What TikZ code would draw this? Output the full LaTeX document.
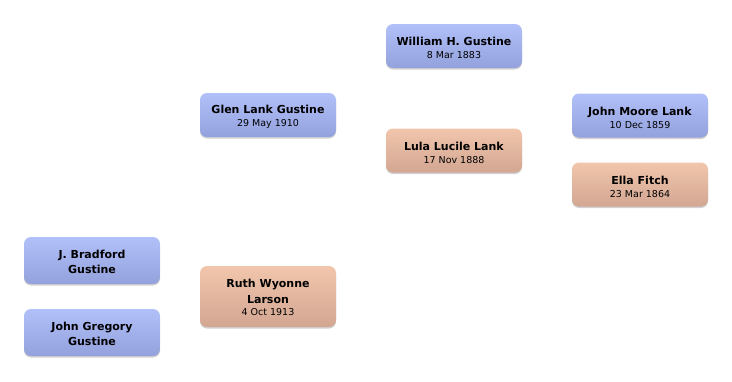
\documentclass[tikz,border=0pt]{standalone}
\usepackage{fontspec}
\setmainfont{DejaVu Sans}
\usetikzlibrary{shadows}
\definecolor{btop}{HTML}{B2C0FA}
\definecolor{bbot}{HTML}{93A1DC}
\definecolor{stop}{HTML}{F1C6AC}
\definecolor{sbot}{HTML}{D2A692}
\tikzset{
  person/.style={rounded corners=7pt, minimum width=136pt, inner sep=0pt,
    drop shadow={shadow xshift=0pt, shadow yshift=-1.5pt, opacity=0.18, fill=black}},
  male/.style={person, top color=btop, bottom color=bbot},
  female/.style={person, top color=stop, bottom color=sbot},
  txt/.style={inner sep=0pt, align=center, text=black, font=\fontsize{11}{15.5}\selectfont},
}
\newcommand{\dt}[1]{{\fontsize{9.5}{12}\selectfont #1}}
\begin{document}
\begin{tikzpicture}[x=1pt,y=-1pt]
\useasboundingbox (0,0) rectangle (732,381);
\node[male, minimum height=47pt] (jb) at (92,260.5) {};
\node[txt] (jbt) at ([yshift=-1.5pt]jb.center) {\textbf{J. Bradford}\\\textbf{Gustine}};
\node[male, minimum height=47pt] (jg) at (92,332.5) {};
\node[txt] (jgt) at ([yshift=-1.5pt]jg.center) {\textbf{John Gregory}\\\textbf{Gustine}};
\node[male, minimum height=44pt] (gl) at (268,115) {};
\node[txt] (glt) at ([yshift=-2pt]gl.center) {\textbf{Glen Lank Gustine}\\[-2.5pt]\dt{29 May 1910}};
\node[female, minimum height=61pt] (rw) at (268,296.5) {};
\node[txt] (rwt) at ([yshift=-1pt]rw.center) {\textbf{Ruth Wyonne}\\\textbf{Larson}\\[-3pt]\dt{4 Oct 1913}};
\node[male, minimum height=44pt] (wg) at (454,46) {};
\node[txt] (wgt) at ([yshift=-2pt]wg.center) {\textbf{William H. Gustine}\\[-2.5pt]\dt{8 Mar 1883}};
\node[female, minimum height=44pt] (ll) at (454,150.5) {};
\node[txt] (llt) at ([yshift=-2pt]ll.center) {\textbf{Lula Lucile Lank}\\[-2.5pt]\dt{17 Nov 1888}};
\node[male, minimum height=44pt] (jm) at (640,115.5) {};
\node[txt] (jmt) at ([yshift=-2pt]jm.center) {\textbf{John Moore Lank}\\[-2.5pt]\dt{10 Dec 1859}};
\node[female, minimum height=44pt] (ef) at (640,184.5) {};
\node[txt] (eft) at ([yshift=-2pt]ef.center) {\textbf{Ella Fitch}\\[-2.5pt]\dt{23 Mar 1864}};
\end{tikzpicture}
\end{document}
